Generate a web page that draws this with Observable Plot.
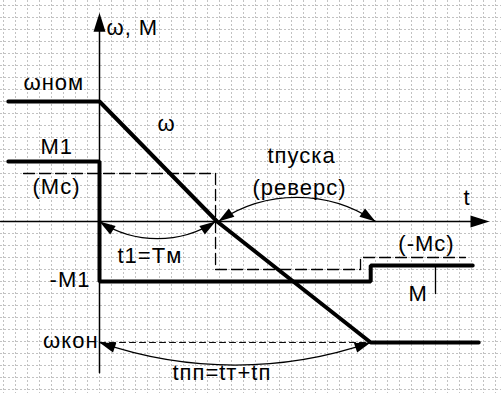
<!DOCTYPE html>
<html><head><meta charset="utf-8">
<script src="https://cdn.jsdelivr.net/npm/d3@7"></script>
<script src="https://cdn.jsdelivr.net/npm/@observablehq/plot@0.6"></script>
<style>body{margin:0;background:#fff} svg{display:block}</style>
</head><body><div id="chart"></div>
<script>
// Units: one grid cell = 1 unit; origin at the axes crossing.
const omegaT = [-7.6, 0, 9.8, 22.6, 31.6];
const omegaV = [10, 10, 0, -10.08, -10.08];
const momentT = [-7.6, 0, 0, 22.6, 22.6, 31.1];
const momentV = [5, 5, -5, -5, -3.67, -3.67];
const mcT = [-6.33, 9.67, 9.67, 21.75, 21.75, 30.5];
const mcV = [4, 4, -4, -4, -3, -3];
const wKonT = [0, 22.6];
const wKonV = [-10.08, -10.08];
const mTickT = [28, 28];
const mTickV = [-3.67, -6];

// curved double arrows: start t, end t, level, bend (deg)
const arcStart = [0, 9.9, 0];
const arcEnd = [9.67, 23.0, 22.6];
const arcLevel = [0, 0, -10.08];
const arcBend = [-33, 34, -19];

const labelText = ["ω, M", "ωном", "ω", "M1", "(Mc)", "tпуска", "(реверс)", "t", "t1=Tм", "-M1", "ωкон", "tпп=tт+tп", "(-Mc)", "M"];
const labelT = [0.58, -6.33, 4.83, -4.92, -5.58, 14.0, 12.75, 30.33, 1.5, -0.75, -0.08, 6.08, 24.9, 25.75];
const labelV = [16.14, 11.56, 8.14, 6.22, 2.89, 5.47, 2.81, 1.97, -2.86, -4.86, -9.94, -12.6, -1.86, -6.03];
const labelAnchor = ["start", "start", "start", "start", "start", "start", "start", "start", "start", "end", "end", "start", "start", "start"];

const gridX = d3.range(-8, 34);
const gridY = d3.range(-14, 19);

const zip = (a, b) => a.map((d, i) => ({t: d, v: b[i]}));
const omega = zip(omegaT, omegaV);
const moment = zip(momentT, momentV);
const mc = zip(mcT, mcV);
const labels = labelText.map((s, i) => ({s, t: labelT[i], v: labelV[i], a: labelAnchor[i]}));
const arcs = arcStart.map((s, i) => ({x1: s, x2: arcEnd[i], y: arcLevel[i], bend: arcBend[i]}));
const heads = [];
arcs.forEach(a => {
  const th = Math.abs(a.bend);
  if (a.bend < 0) { // sags downward
    heads.push({t: a.x2, v: a.y, r: 90 - th});
    heads.push({t: a.x1, v: a.y, r: 270 + th});
  } else {
    heads.push({t: a.x2, v: a.y, r: 90 + th});
    heads.push({t: a.x1, v: a.y, r: 270 - th});
  }
});
const axisHeads = [{t: 0, v: 17.4, r: 0}, {t: 32.5, v: 0, r: 90}];
const tri = {draw(ctx, l, r) { ctx.moveTo(0, -l); ctx.lineTo(r, 0); ctx.lineTo(-r, 0); ctx.closePath(); }};
const textOpts = {x: "t", y: "v", text: "s", fontSize: 22, fill: "black"};

const plot = Plot.plot({
  width: 501, height: 393, margin: 0,
  x: {domain: [-8.25, 33.5], axis: null},
  y: {domain: [-14.3333, 18.4167], axis: null},
  style: {fontFamily: "Liberation Sans, Arial, sans-serif", background: "white", color: "black", letterSpacing: "1px"},
  marks: [
    Plot.gridX(gridX, {stroke: "#c2c2c2", strokeOpacity: 1, strokeDasharray: "2,2", strokeWidth: 1}),
    Plot.gridY(gridY, {stroke: "#c2c2c2", strokeOpacity: 1, strokeDasharray: "2,2", strokeWidth: 1}),
    // axes
    Plot.line([{t: 0, v: -12.6}, {t: 0, v: 16}], {x: "t", y: "v", stroke: "black", strokeWidth: 1.5}),
    Plot.line([{t: -8.25, v: 0}, {t: 31, v: 0}], {x: "t", y: "v", stroke: "black", strokeWidth: 1.5}),
    Plot.vector(axisHeads, {x: "t", y: "v", rotate: "r", length: 19, r: 6, anchor: "end", shape: tri, fill: "black", stroke: "none"}),
    // dashed lines
    Plot.line(mc, {x: "t", y: "v", stroke: "black", strokeWidth: 1.3, strokeDasharray: "11,5"}),
    Plot.line(zip(wKonT, wKonV), {x: "t", y: "v", stroke: "black", strokeWidth: 1, strokeDasharray: "6,4"}),
    Plot.line(zip(mTickT, mTickV), {x: "t", y: "v", stroke: "black", strokeWidth: 1.3}),
    // main curves
    Plot.line(omega, {x: "t", y: "v", stroke: "black", strokeWidth: 4, strokeLinejoin: "miter", strokeLinecap: "round"}),
    Plot.line(moment, {x: "t", y: "v", stroke: "black", strokeWidth: 4, strokeLinejoin: "miter", strokeLinecap: "round"}),
    // curved arrows
    ...arcs.map(a => Plot.arrow([a], {x1: "x1", x2: "x2", y1: "y", y2: "y", bend: a.bend, stroke: "black", strokeWidth: 1.3, headLength: 0})),
    Plot.vector(heads, {x: "t", y: "v", rotate: "r", length: 16, r: 5, anchor: "end", shape: tri, fill: "black", stroke: "none"}),
    Plot.text(labels.filter(d => d.a === "start"), {...textOpts, textAnchor: "start"}),
    Plot.text(labels.filter(d => d.a === "end"), {...textOpts, textAnchor: "end"})
  ]
});
document.getElementById("chart").appendChild(plot);
</script>
</body></html>
